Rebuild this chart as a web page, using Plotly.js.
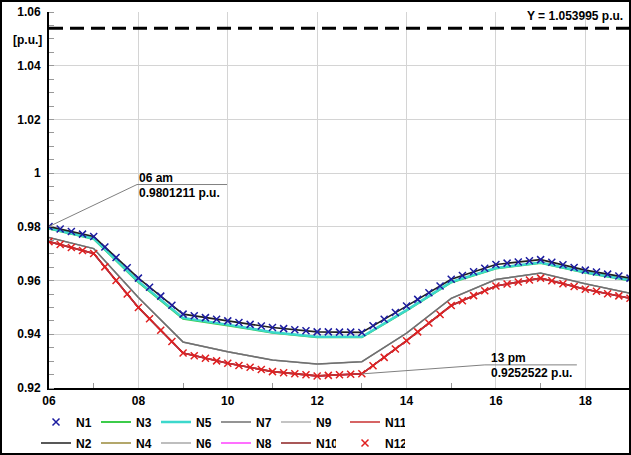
<!DOCTYPE html>
<html>
<head>
<meta charset="utf-8">
<script src="https://cdn.plot.ly/plotly-3.0.1.min.js"></script>
<style>
  html, body { margin: 0; padding: 0; background: #fff; }
  #wrap { position: relative; width: 631px; height: 455px; }
  #chart { position: absolute; left: 0; top: 0; width: 631px; height: 455px; }
  #frame { position: absolute; left: 0; top: 0; width: 631px; height: 455px; box-sizing: border-box; border: 2px solid #000; pointer-events: none; }
</style>
</head>
<body>
<div id="wrap"><div id="chart"></div><div id="frame"></div></div>
<script>
// ---- data ----
const hours = [6, 7, 8, 9, 10, 11, 12, 13, 14, 15, 16, 17, 18, 19];
const quarters = [6, 6.25, 6.5, 6.75, 7, 7.25, 7.5, 7.75, 8, 8.25, 8.5, 8.75, 9, 9.25, 9.5, 9.75,
  10, 10.25, 10.5, 10.75, 11, 11.25, 11.5, 11.75, 12, 12.25, 12.5, 12.75, 13, 13.25, 13.5, 13.75,
  14, 14.25, 14.5, 14.75, 15, 15.25, 15.5, 15.75, 16, 16.25, 16.5, 16.75, 17, 17.25, 17.5, 17.75,
  18, 18.25, 18.5, 18.75, 19];

// N1 markers (15-min)
const n1 = [0.9801, 0.9792, 0.9783, 0.9773, 0.9764, 0.9725, 0.9686, 0.9648,
  0.9609, 0.9575, 0.9542, 0.9508, 0.9475, 0.9469, 0.9462, 0.9456,
  0.9450, 0.9444, 0.9437, 0.9431, 0.9425, 0.9421, 0.9417, 0.9413,
  0.9409, 0.9409, 0.9408, 0.9408, 0.9407, 0.9432, 0.9456, 0.9481,
  0.9505, 0.9530, 0.9555, 0.9580, 0.9605, 0.9619, 0.9633, 0.9646,
  0.9660, 0.9665, 0.9669, 0.9674, 0.9678, 0.9668, 0.9659, 0.9649,
  0.9639, 0.9632, 0.9624, 0.9617, 0.9609];
// N12 markers (15-min)
const n12 = [0.9745, 0.9734, 0.9723, 0.9712, 0.9701, 0.9651, 0.9600, 0.9550,
  0.9500, 0.9458, 0.9415, 0.9373, 0.9330, 0.9320, 0.9311, 0.9301,
  0.9292, 0.9284, 0.9277, 0.9269, 0.9261, 0.9257, 0.9253, 0.9249,
  0.9245, 0.9247, 0.9249, 0.9251, 0.9253, 0.9283, 0.9314, 0.9345,
  0.9376, 0.9409, 0.9442, 0.9474, 0.9507, 0.9525, 0.9544, 0.9562,
  0.9580, 0.9587, 0.9595, 0.9602, 0.9609, 0.9599, 0.9588, 0.9578,
  0.9568, 0.9560, 0.9551, 0.9543, 0.9534];

// hourly line series
const n2  = [0.9801, 0.9764, 0.9609, 0.9475, 0.9450, 0.9425, 0.9409, 0.9407, 0.9505, 0.9605, 0.9660, 0.9678, 0.9639, 0.9609];
const n3  = [0.9793, 0.9755, 0.9594, 0.9458, 0.9433, 0.9406, 0.9389, 0.9389, 0.9488, 0.9593, 0.9645, 0.9665, 0.9629, 0.9600];
const n5  = [0.9795, 0.9757, 0.9597, 0.9461, 0.9436, 0.9408, 0.9391, 0.9391, 0.9490, 0.9595, 0.9647, 0.9667, 0.9631, 0.9602];
const n6  = [0.9760, 0.9719, 0.9537, 0.9371, 0.9335, 0.9304, 0.9289, 0.9298, 0.9404, 0.9534, 0.9604, 0.9628, 0.9588, 0.9553];
const n7  = [0.9760, 0.9719, 0.9537, 0.9371, 0.9335, 0.9304, 0.9289, 0.9298, 0.9404, 0.9534, 0.9604, 0.9628, 0.9588, 0.9553];
const n9  = [0.9760, 0.9719, 0.9537, 0.9371, 0.9335, 0.9304, 0.9289, 0.9298, 0.9404, 0.9534, 0.9604, 0.9628, 0.9588, 0.9553];
const n4  = [0.9745, 0.9701, 0.9500, 0.9330, 0.9292, 0.9261, 0.9245, 0.9253, 0.9376, 0.9507, 0.9580, 0.9609, 0.9568, 0.9534];
const n8  = [0.9745, 0.9701, 0.9500, 0.9330, 0.9292, 0.9261, 0.9245, 0.9253, 0.9376, 0.9507, 0.9580, 0.9609, 0.9568, 0.9534];
const n10 = [0.9745, 0.9701, 0.9500, 0.9330, 0.9292, 0.9261, 0.9245, 0.9253, 0.9376, 0.9507, 0.9580, 0.9609, 0.9568, 0.9534];
const n11 = [0.9745, 0.9701, 0.9500, 0.9330, 0.9292, 0.9261, 0.9245, 0.9253, 0.9376, 0.9507, 0.9580, 0.9609, 0.9568, 0.9534];

const xTickVals = [6, 8, 10, 12, 14, 16, 18];
const xTickText = ['06', '08', '10', '12', '14', '16', '18'];
const xMinorVals = [7, 9, 11, 13, 15, 17];
const yTickVals = [0.92, 0.94, 0.96, 0.98, 1.00, 1.02, 1.04, 1.06];
const yTickText = ['0.92', '0.94', '0.96', '0.98', '1', '1.02', '1.04', '1.06'];

const refY = 1.053995;
const annTimes = [6, 13];
const annLabels = ['06 am', '13 pm'];
const annValues = [0.9801211, 0.9252522];

// ---- traces ----
const F = 'Arial, "Liberation Sans", sans-serif';
function lineTrace(name, y, color, width, legend, rank) {
  return { type: 'scatter', mode: 'lines', name: name, x: hours, y: y,
    line: { color: color, width: width }, legend: legend, legendrank: rank, hoverinfo: 'skip' };
}
const traces = [
  lineTrace('N3', n3, '#3ccc4a', 2, 'legend', 2),
  lineTrace('N4', n4, '#9a8a3a', 1.5, 'legend2', 8),
  lineTrace('N6', n6, '#a8a8a8', 1.3, 'legend2', 9),
  lineTrace('N8', n8, '#ff40ff', 1.5, 'legend2', 10),
  lineTrace('N9', n9, '#b0b0b0', 1.3, 'legend', 5),
  lineTrace('N7', n7, '#707070', 1.5, 'legend', 4),
  lineTrace('N5', n5, '#3cd8cc', 2.5, 'legend', 3),
  lineTrace('N2', n2, '#202020', 1.6, 'legend2', 7),
  lineTrace('N10', n10, '#8c2020', 1.6, 'legend2', 11),
  lineTrace('N11', n11, '#c83030', 1.6, 'legend3', 6),
  { type: 'scatter', mode: 'markers', name: 'N1', x: quarters, y: n1, legend: 'legend', legendrank: 1,
    marker: { symbol: 'x-thin', size: 7, color: '#1c1ca0', line: { color: '#1c1ca0', width: 1.5 } }, hoverinfo: 'skip' },
  { type: 'scatter', mode: 'markers', name: 'N12', x: quarters, y: n12, legend: 'legend4', legendrank: 12,
    marker: { symbol: 'x-thin', size: 7, color: '#e02020', line: { color: '#e02020', width: 1.5 } }, hoverinfo: 'skip' }
];

// ---- shapes & annotations ----
const shapes = [
  { type: 'line', xref: 'paper', yref: 'y', x0: 0, x1: 1, y0: refY, y1: refY,
    line: { color: '#000', width: 3, dash: '14px,7px' } }
];
const annotations = [
  { xref: 'paper', yref: 'y', x: 0, y: 1.0497, xanchor: 'right', yanchor: 'middle', xshift: -5,
    text: '[p.u.]', showarrow: false, font: { family: F, size: 12, weight: 'bold', color: '#000' } },
  { xref: 'paper', yref: 'y', x: 1, y: refY, xanchor: 'right', yanchor: 'bottom', xshift: -5, yshift: 3,
    text: 'Y = ' + refY + ' p.u.', showarrow: false, font: { family: F, size: 12, weight: 'bold', color: '#000' } }
];
const leader = [ { dx: 88, dy: 42, len: 178, tx: 88 }, { dx: 123, dy: 9, len: 215, tx: 127 } ];
annTimes.forEach(function (t, i) {
  const L = leader[i];
  shapes.push({ type: 'line', xref: 'x', yref: 'y', xsizemode: 'pixel', ysizemode: 'pixel',
    xanchor: t, yanchor: annValues[i], x0: 0, y0: 0, x1: L.dx, y1: L.dy, line: { color: '#808080', width: 1 } });
  shapes.push({ type: 'line', xref: 'x', yref: 'y', xsizemode: 'pixel', ysizemode: 'pixel',
    xanchor: t, yanchor: annValues[i], x0: L.dx, y0: L.dy, x1: L.len, y1: L.dy, line: { color: '#808080', width: 1 } });
  annotations.push({ x: t, y: annValues[i], xanchor: 'left', yanchor: 'middle', xshift: L.tx, yshift: L.dy + 7,
    text: annLabels[i], showarrow: false, font: { family: F, size: 12, weight: 'bold', color: '#000' } });
  annotations.push({ x: t, y: annValues[i], xanchor: 'left', yanchor: 'middle', xshift: L.tx, yshift: L.dy - 8,
    text: annValues[i].toFixed(7) + ' p.u.', showarrow: false, font: { family: F, size: 12, weight: 'bold', color: '#000' } });
});

const legendBase = {
  orientation: 'h', xref: 'container', yref: 'container', xanchor: 'left', yanchor: 'middle',
  entrywidth: 15, entrywidthmode: 'pixels', bgcolor: 'rgba(0,0,0,0)', borderwidth: 0,
  font: { family: F, size: 12, weight: 'bold', color: '#000' }, traceorder: 'normal'
};
const row1 = 1 - 422 / 455, row2 = 1 - 443 / 455;

const layout = {
  width: 631, height: 455,
  margin: { l: 49, r: 1, t: 12, b: 67, pad: 0 },
  paper_bgcolor: '#fff', plot_bgcolor: '#fff',
  font: { family: F, size: 12, color: '#000' },
  showlegend: true,
  legend: Object.assign({}, legendBase, { x: 36 / 631, y: row1 }),
  legend2: Object.assign({}, legendBase, { x: 36 / 631, y: row2 }),
  legend3: Object.assign({}, legendBase, { x: 345 / 631, y: row1 }),
  legend4: Object.assign({}, legendBase, { x: 345 / 631, y: row2 }),
  xaxis: {
    range: [6, 19], tickmode: 'array', tickvals: xTickVals, ticktext: xTickText,
    showgrid: true, gridcolor: '#d4d4d4', gridwidth: 1, zeroline: false,
    showline: true, linecolor: '#000', linewidth: 2, ticks: '', ticklabelstandoff: 1,
    tickfont: { family: F, size: 12, weight: 'bold', color: '#000' },
    minor: { tickmode: 'array', tickvals: xMinorVals, ticks: 'inside', ticklen: 5, tickcolor: '#999', tickwidth: 1, showgrid: false },
    fixedrange: true
  },
  yaxis: {
    range: [0.92, 1.06], tickmode: 'array', tickvals: yTickVals, ticktext: yTickText,
    showgrid: true, gridcolor: '#d4d4d4', gridwidth: 1, zeroline: false,
    showline: true, linecolor: '#000', linewidth: 2, ticks: '', ticklabelstandoff: 4,
    tickfont: { family: F, size: 12, weight: 'bold', color: '#000' },
    minor: { tickmode: 'linear', tick0: 0.92, dtick: 0.005, ticks: 'inside', ticklen: 5, tickcolor: '#999', tickwidth: 1, showgrid: false },
    fixedrange: true
  },
  shapes: shapes,
  annotations: annotations
};

Plotly.newPlot('chart', traces, layout, { displayModeBar: false, staticPlot: true });
</script>
</body>
</html>
